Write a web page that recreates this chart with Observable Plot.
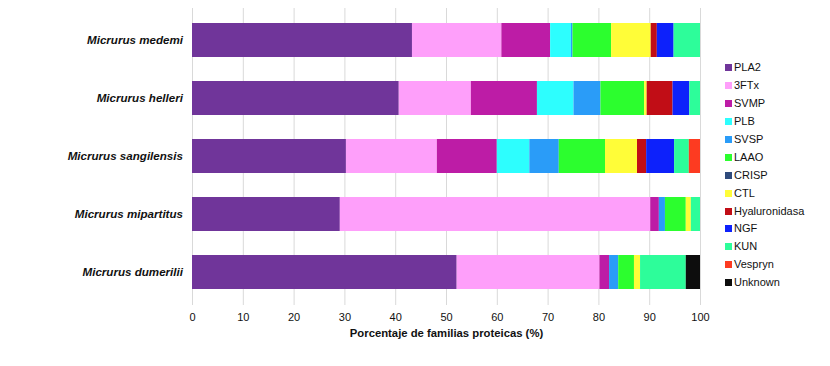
<!DOCTYPE html>
<html><head><meta charset="utf-8">
<script src="https://cdn.jsdelivr.net/npm/d3@7"></script>
<script src="https://cdn.jsdelivr.net/npm/@observablehq/plot@0.6"></script>
<style>
body{margin:0;background:#fff;font-family:"Liberation Sans",Arial,Helvetica,sans-serif;}
#wrap{position:relative;width:830px;height:366px;}
#legend{position:absolute;left:725px;top:59px;font-size:11px;color:#111;line-height:1;}
.item{display:flex;align-items:center;height:17.9px;}
.sw{width:7px;height:7px;margin-right:2px;flex:none;}
</style></head><body><div id="wrap"><div id="legend"></div></div>
<script>
const species = ["Micrurus medemi","Micrurus helleri","Micrurus sangilensis","Micrurus mipartitus","Micrurus dumerilii"];
const families = ["PLA2","3FTx","SVMP","PLB","SVSP","LAAO","CRISP","CTL","Hyaluronidasa","NGF","KUN","Vespryn","Unknown"];
const colors = ["#70359a","#fe9ffa","#bd1ca6","#2dfefe","#2a9cf8","#2cfe2e","#2f4b7c","#fffd38","#c10d16","#0d21fb","#2dfd9a","#fd3b21","#0d0d0d"];
// values per species, in family order
const medemi      = [43.3,17.6, 9.6,4.1,0.3,7.6,0,7.8,1.2,3.3,5.2,0,0];
const helleri     = [40.7,14.2,13.0,7.2,5.3,8.6,0,0.5,5.1,3.3,2.1,0,0];
const sangilensis = [30.3,17.9,11.8,6.4,5.8,9.1,0,6.3,1.8,5.5,2.9,2.2,0];
const mipartitus  = [29.1,61.1, 1.7,0,1.2,4.1,0,1.0,0,0,1.8,0,0];
const dumerilii   = [52.1,28.1, 1.9,0,1.8,3.1,0,1.2,0,0,9.0,0,2.8];
const seriesValues = [medemi, helleri, sangilensis, mipartitus, dumerilii];
const xTicks = [0,10,20,30,40,50,60,70,80,90,100];

const rows = [];
species.forEach((s,i)=>families.forEach((f,j)=>{
  if (seriesValues[i][j] > 0) rows.push({species:s, family:f, value:seriesValues[i][j]});
}));

const chart = Plot.plot({
  width:830, height:366,
  marginLeft:192, marginRight:130, marginTop:8, marginBottom:61,
  style:{fontFamily:'"Liberation Sans",Arial,Helvetica,sans-serif', fontSize:"11px", color:"#111", background:"#fff"},
  x:{domain:[0,100]},
  y:{domain:species, paddingInner:0.406, paddingOuter:0.22},
  color:{domain:families, range:colors},
  marks:[
    Plot.gridX(xTicks,{stroke:"#d9d9d9", strokeOpacity:1}),
    Plot.barX(rows, Plot.stackX({x:"value", y:"species", fill:"family"})),
    Plot.axisX({ticks:xTicks, tickSize:0, tickPadding:8, fontSize:11, label:"Porcentaje de familias proteicas (%)", labelAnchor:"center", labelArrow:"none", labelOffset:31}),
    Plot.axisY({tickSize:0, tickPadding:9.5, fontWeight:"bold", fontStyle:"italic", fontSize:11.6, label:null})
  ]
});
d3.select(chart).selectAll('g[aria-label="x-axis label"] text').attr("font-weight","bold").attr("font-size","11.3px");
document.getElementById("wrap").prepend(chart);

const leg = d3.select("#legend");
families.forEach((f,i)=>{
  const it = leg.append("div").attr("class","item");
  it.append("div").attr("class","sw").style("background",colors[i]);
  it.append("span").text(f);
});
</script></body></html>
